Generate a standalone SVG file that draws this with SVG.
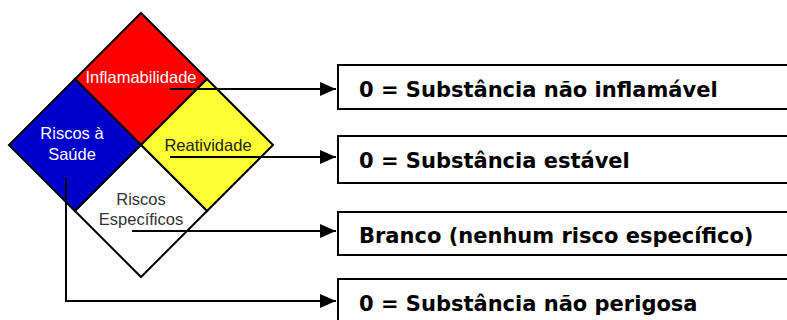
<svg xmlns="http://www.w3.org/2000/svg" width="787" height="320" viewBox="0 0 787 320">
<defs>
<marker id="arr" viewBox="0 0 16 14" refX="16" refY="7" markerWidth="16" markerHeight="14" markerUnits="userSpaceOnUse" orient="auto">
<path d="M0,0 L16,7 L0,14 Z" fill="#000"/>
</marker>
</defs>
<style>
.q{stroke:#000;stroke-width:2;stroke-linejoin:miter}
.lbl{font-family:"Liberation Sans",Arial,sans-serif;font-size:16.5px;text-anchor:middle}
.box{fill:#fff;stroke:#000;stroke-width:2}
.bt{font-family:"DejaVu Sans",Verdana,sans-serif;font-weight:bold;font-size:21px;fill:#000}
.c{fill:none;stroke:#000;stroke-width:2}
</style>
<rect width="787" height="320" fill="#fff"/>
<g id="flamabilidade">
<polygon class="q" points="141,13 207,79 141,145 75,79" fill="#ff0000"/>
<text class="lbl" x="141" y="83" fill="#fff">Inflamabilidade</text>
</g>
<g id="saude">
<polygon class="q" points="75,79 141,145 75,211 9,145" fill="#0000cc"/>
<text class="lbl" x="72" y="139" fill="#fff">Riscos à</text>
<text class="lbl" x="72" y="160" fill="#fff">Saúde</text>
</g>
<g id="reatividade">
<polygon class="q" points="207,79 273,145 207,211 141,145" fill="#ffff33"/>
<text class="lbl" x="208" y="151" fill="#222">Reatividade</text>
</g>
<g id="especificos">
<polygon class="q" points="141,145 207,211 141,277 75,211" fill="#fff"/>
<text class="lbl" x="141" y="205" fill="#333">Riscos</text>
<text class="lbl" x="141" y="225" fill="#333">Específicos</text>
</g>
<g id="box1">
<rect class="box" x="338" y="65" width="460" height="44"/>
<text class="bt" x="359" y="97">0 = Substância não inflamável</text>
</g>
<g id="box2">
<rect class="box" x="338" y="136" width="460" height="47"/>
<text class="bt" x="359" y="168">0 = Substância estável</text>
</g>
<g id="box3">
<rect class="box" x="338" y="212" width="460" height="43"/>
<text class="bt" x="359" y="243">Branco (nenhum risco específico)</text>
</g>
<g id="box4">
<rect class="box" x="338" y="279" width="460" height="60"/>
<text class="bt" x="359" y="311">0 = Substância não perigosa</text>
</g>
<g id="connectors">
<path class="c" d="M170,89 H336" marker-end="url(#arr)"/>
<path class="c" d="M170,157 H336" marker-end="url(#arr)"/>
<path class="c" d="M132,231 H336" marker-end="url(#arr)"/>
<path class="c" d="M66,178 V301 H336" marker-end="url(#arr)"/>
</g>
</svg>
